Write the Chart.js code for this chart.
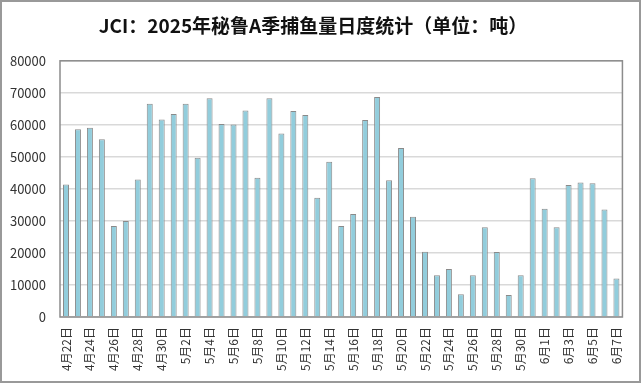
<!DOCTYPE html>
<html>
<head>
<meta charset="utf-8">
<script src="https://cdn.jsdelivr.net/npm/chart.js@4"></script>
<style>
  html, body { margin: 0; padding: 0; background: #fff; }
  #wrap { width: 641px; height: 384px; position: relative; }
</style>
</head>
<body>
<div id="wrap"><canvas id="fishChart" width="641" height="384"></canvas></div>
<script>
// 日期 (4月22日 - 6月7日)
const days = [
  '4月22日','4月23日','4月24日','4月25日','4月26日','4月27日','4月28日','4月29日','4月30日',
  '5月1日','5月2日','5月3日','5月4日','5月5日','5月6日','5月7日','5月8日','5月9日','5月10日',
  '5月11日','5月12日','5月13日','5月14日','5月15日','5月16日','5月17日','5月18日','5月19日','5月20日',
  '5月21日','5月22日','5月23日','5月24日','5月25日','5月26日','5月27日','5月28日','5月29日','5月30日','5月31日',
  '6月1日','6月2日','6月3日','6月4日','6月5日','6月6日','6月7日'
];

// 日捕鱼量 (吨)
const catchTons = [
  41400, 58600, 59100, 55500, 28400, 30000, 42900, 66600, 61700,
  63400, 66600, 49700, 68300, 60300, 60100, 64500, 43500, 68300, 57300,
  64300, 63100, 37200, 48500, 28400, 32200, 61500, 68700, 42700, 52800,
  31300, 20400, 13000, 15000, 7100, 13000, 28000, 20300, 6900, 13000, 43300,
  33800, 28000, 41200, 42000, 41800, 33600, 12000
];

const yTicks = [0, 10000, 20000, 30000, 40000, 50000, 60000, 70000, 80000];

const cjkFont = '"Noto Sans CJK SC", "Noto Sans", sans-serif';

// 外框 + 绘图区边框
const framePlugin = {
  id: 'frame',
  afterDraw(chart) {
    const c = chart.ctx;
    const a = chart.chartArea;
    c.save();
    c.strokeStyle = '#8c8c8c';
    c.lineWidth = 1.5;
    c.strokeRect(a.left, a.top, a.right - a.left, a.bottom - a.top);
    c.strokeStyle = '#999';
    c.lineWidth = 2;
    c.strokeRect(1, 1, chart.width - 2, 381);
    c.restore();
  }
};

new Chart(document.getElementById('fishChart').getContext('2d'), {
  type: 'bar',
  data: {
    labels: days,
    datasets: [{
      label: '捕鱼量',
      data: catchTons,
      backgroundColor: '#92cddc',
      borderColor: '#8a8a8a',
      borderWidth: 1,
      barPercentage: 0.5,
      categoryPercentage: 1.0
    }]
  },
  options: {
    responsive: false,
    animation: false,
    devicePixelRatio: 1,
    layout: { padding: { left: 0, right: 15, top: 0, bottom: 0 } },
    plugins: {
      legend: { display: false },
      tooltip: { enabled: false },
      title: {
        display: true,
        text: 'JCI：2025年秘鲁A季捕鱼量日度统计（单位：吨）',
        color: '#111',
        font: { family: cjkFont, size: 19, weight: 'bold' },
        padding: { top: 14, bottom: 24 }
      }
    },
    scales: {
      x: {
        grid: { display: false, drawTicks: false },
        border: { display: false },
        ticks: {
          autoSkip: false,
          maxRotation: 90,
          minRotation: 90,
          padding: 10,
          color: '#333',
          font: { family: cjkFont, size: 12 },
          callback: function(val, i) { return i % 2 === 0 ? days[i] : ''; }
        },
        afterFit(scale) { scale.height = 67; }
      },
      y: {
        min: 0,
        max: 80000,
        afterBuildTicks(scale) { scale.ticks = yTicks.map(v => ({ value: v })); },
        grid: { color: '#d9d9d9', lineWidth: 1.5, drawTicks: false },
        border: { display: false },
        ticks: {
          padding: 14,
          color: '#333',
          font: { family: cjkFont, size: 13 },
          callback: function(v) { return String(v); }
        },
        afterFit(scale) { scale.width = 60; }
      }
    }
  },
  plugins: [framePlugin]
});
</script>
</body>
</html>
